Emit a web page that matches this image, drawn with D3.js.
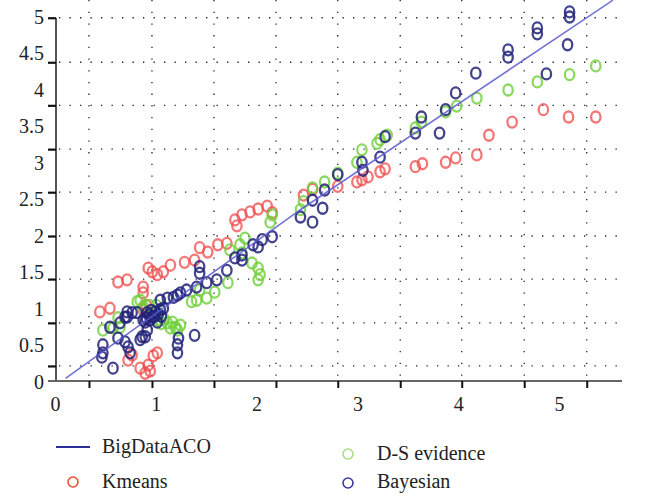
<!DOCTYPE html>
<html lang="en">
<head>
<meta charset="UTF-8">
<title>BigDataACO scatter</title>
<script src="https://cdn.jsdelivr.net/npm/d3@7/dist/d3.min.js"></script>
<style>
    body { margin: 0; background: #fff; }
    svg text { font-family: "Liberation Serif", "Times New Roman", serif; fill: #222; }
</style>
</head>
<body>
<script>
    // tick labels shown on the axes
    const xLabels = [0, 1, 2, 3, 4, 5];
    const yLabels = [0, 0.5, 1, 1.5, 2, 2.5, 3, 3.5, 4, 4.5, 5];
    // tick marks / dotted grid (not aligned with labels in the original)
    const xGrid = [0.332, 0.957, 1.572, 2.187, 2.80, 3.42, 4.03, 4.65, 5.27];
    const yGrid = [0.22, 0.81, 1.41, 2.0, 2.60, 3.19, 3.79, 4.38, 4.99];

    // BigDataACO fitted line
    const bigDataACO = [[0.1, 0.05], [2.43, 2.36], [5.53, 5.23]];

    const kmeans = [
        [5.36,3.63],[5.09,3.63],[4.84,3.73],[4.53,3.56],[4.30,3.38],[4.18,3.11],[3.97,3.07],
        [3.87,3.01],[3.64,2.99],[3.57,2.95],[3.27,2.92],[3.22,2.88],[3.10,2.81],[3.04,2.77],
        [2.99,2.74],[2.80,2.68],[2.55,2.64],[2.46,2.56],[2.15,2.32],[2.10,2.41],[2.01,2.37],
        [1.93,2.33],[1.85,2.29],[1.78,2.22],[1.80,2.14],[1.70,1.90],[1.61,1.88],[1.51,1.78],
        [1.43,1.84],[1.38,1.67],[1.28,1.64],[1.14,1.60],[1.07,1.51],[1.01,1.47],[0.96,1.51],
        [0.92,1.56],[0.87,1.30],[0.87,1.22],[0.71,1.40],[0.62,1.37],[0.54,1.01],[0.44,0.96],
        [0.87,0.99],[0.72,0.30],[0.76,0.37],[0.84,0.19],[0.89,0.12],[0.94,0.15],[0.92,0.23],
        [0.97,0.36],[1.01,0.40],[0.90,1.05]
    ];

    const dsEvidence = [
        [5.36,4.33],[5.10,4.21],[4.78,4.11],[4.49,4.00],[4.18,3.89],[3.98,3.78],[3.87,3.70],
        [3.63,3.56],[3.57,3.48],[3.29,3.38],[3.22,3.32],[3.19,3.27],[3.04,3.18],[2.99,3.01],
        [2.80,2.86],[2.67,2.74],[2.55,2.66],[2.46,2.47],[2.43,2.36],[2.15,2.29],[2.13,2.19],
        [1.88,1.97],[1.83,1.88],[1.85,1.77],[1.73,1.81],[1.95,1.63],[2.01,1.56],[2.03,1.47],
        [2.01,1.40],[1.71,1.36],[1.58,1.23],[1.50,1.15],[1.43,1.26],[1.40,1.12],[1.35,1.10],
        [1.24,0.78],[1.19,0.75],[1.14,0.74],[1.16,0.82],[1.11,0.81],[1.21,0.71],[0.97,0.95],
        [1.01,0.85],[0.84,1.12],[0.81,1.10],[0.87,1.03],[0.62,0.88],[0.64,0.75],[0.47,0.71],
        [0.57,0.74],[1.05,0.80],[1.08,0.86],[0.93,1.05],[1.00,1.05]
    ];

    const bayesian = [
        [5.10,5.07],[5.10,5.00],[4.78,4.85],[4.78,4.77],[5.08,4.62],[4.49,4.55],[4.49,4.45],
        [4.87,4.22],[4.17,4.23],[3.97,3.96],[3.87,3.73],[3.81,3.41],[3.63,3.63],[3.57,3.41],
        [3.27,3.36],[3.22,3.08],[3.04,3.01],[3.05,2.90],[2.80,2.84],[2.67,2.63],[2.55,2.49],
        [2.65,2.38],[2.55,2.19],[2.43,2.26],[2.15,1.99],[2.05,1.95],[2.01,1.85],[1.96,1.88],
        [1.85,1.74],[1.78,1.70],[1.85,1.67],[1.70,1.53],[1.60,1.40],[1.50,1.36],[1.43,1.58],
        [1.43,1.49],[1.40,1.30],[1.30,1.26],[1.24,1.22],[1.21,1.19],[1.11,1.15],[1.04,1.12],
        [1.17,1.16],[0.96,0.89],[1.04,0.99],[0.99,0.96],[0.94,0.85],[0.91,0.95],[0.89,0.82],
        [1.01,0.82],[1.07,1.01],[0.87,0.85],[0.81,0.95],[0.76,0.95],[0.71,0.89],[0.69,0.89],
        [0.71,0.96],[0.64,0.81],[0.54,0.75],[0.91,0.71],[0.89,0.62],[0.86,0.62],[0.84,0.58],
        [0.62,0.60],[0.69,0.55],[0.72,0.48],[0.74,0.40],[0.47,0.51],[0.47,0.40],[0.46,0.34],
        [0.57,0.19],[1.22,0.60],[1.21,0.51],[1.21,0.40],[1.38,0.64],[0.93,0.92],[0.98,0.90],
        [1.02,0.93],[0.95,0.98],[0.90,0.88],[1.05,0.90]
    ];

    const width = 648, height = 496;

    const svg = d3.select("body").append("svg")
        .attr("width", width)
        .attr("height", height);

    const x = d3.scaleLinear().domain([0, 5]).range([55.5, 559.5]);
    const y = d3.scaleLinear().domain([0, 5]).range([382, 17]);

    const xMin = 56, xMax = 622, yBottom = 381, yTop = 18;

    // dotted grid
    svg.append("g").selectAll("line")
        .data(yGrid)
        .enter().append("line")
        .attr("x1", xMin + 3).attr("x2", xMax)
        .attr("y1", d => y(d)).attr("y2", d => y(d))
        .attr("stroke", "#222").attr("stroke-width", 1.3)
        .attr("stroke-dasharray", "1.3,9.2");

    svg.append("g").selectAll("line")
        .data(xGrid)
        .enter().append("line")
        .attr("x1", d => x(d)).attr("x2", d => x(d))
        .attr("y1", 0).attr("y2", yBottom - 4)
        .attr("stroke", "#222").attr("stroke-width", 1.3)
        .attr("stroke-dasharray", "1.3,10.4");

    // axis lines and tick marks
    const xAxis = svg.append("g")
        .attr("transform", `translate(0,${yBottom})`)
        .call(d3.axisBottom(x).tickValues(xGrid).tickFormat("").tickSize(7).tickSizeOuter(0));
    xAxis.select(".domain").attr("d", `M${xMin - 8},0H${xMax}`).attr("stroke", "#333").attr("stroke-width", 1.6);
    xAxis.selectAll(".tick line").attr("stroke", "#111").attr("stroke-width", 2);

    const yAxis = svg.append("g")
        .attr("transform", `translate(${xMin},0)`)
        .call(d3.axisLeft(y).tickValues(yGrid).tickFormat("").tickSize(8).tickSizeOuter(0));
    yAxis.select(".domain").attr("d", `M0,${yTop}V${yBottom}`).attr("stroke", "#555").attr("stroke-width", 2);
    yAxis.selectAll(".tick line").attr("stroke", "#111").attr("stroke-width", 2.2);

    // tick labels
    svg.append("g").selectAll("text")
        .data(xLabels)
        .enter().append("text")
        .attr("x", d => x(d))
        .attr("y", 411)
        .attr("text-anchor", "middle")
        .style("font-size", "20px")
        .text(d => d);

    svg.append("g").selectAll("text")
        .data(yLabels)
        .enter().append("text")
        .attr("x", 44)
        .attr("y", d => y(d) + 6.5)
        .attr("text-anchor", "end")
        .style("font-size", "20px")
        .text(d => d);

    // scatter series
    const series = [
        { name: "Kmeans", data: kmeans, color: "#f04a4a", opacity: 0.75 },
        { name: "D-S evidence", data: dsEvidence, color: "#6fcf3a", opacity: 0.8 },
        { name: "Bayesian", data: bayesian, color: "#22227a", opacity: 0.85 }
    ];

    series.forEach(s => {
        svg.append("g").selectAll("ellipse")
            .data(s.data)
            .enter().append("ellipse")
            .attr("cx", d => x(d[0]))
            .attr("cy", d => y(d[1]))
            .attr("rx", 4.7).attr("ry", 5.5)
            .attr("fill", "none")
            .attr("stroke", s.color)
            .attr("stroke-width", 2.3)
            .attr("stroke-opacity", s.opacity);
    });

    // BigDataACO line
    const line = d3.line().x(d => x(d[0])).y(d => y(d[1]));
    svg.append("path")
        .datum(bigDataACO)
        .attr("d", line)
        .attr("fill", "none")
        .attr("stroke", "#5a5ad0")
        .attr("stroke-width", 1.6)
        .attr("stroke-opacity", 0.85);

    // legend
    const legend = svg.append("g");
    legend.append("line")
        .attr("x1", 56).attr("x2", 90).attr("y1", 447).attr("y2", 447)
        .attr("stroke", "#2e2e9a").attr("stroke-width", 2.2);
    legend.append("text").attr("x", 102).attr("y", 453).style("font-size", "20px").text("BigDataACO");

    const legendItems = [
        { label: "Kmeans", color: "#e8502a", cx: 73, cy: 482, tx: 102, ty: 488 },
        { label: "D-S evidence", color: "#a6e07e", cx: 348, cy: 454, tx: 377, ty: 460 },
        { label: "Bayesian", color: "#3a3aa0", cx: 348, cy: 483, tx: 377, ty: 488 }
    ];
    legendItems.forEach(d => {
        legend.append("circle")
            .attr("cx", d.cx).attr("cy", d.cy).attr("r", 5)
            .attr("fill", "none").attr("stroke", d.color).attr("stroke-width", 1.6);
        legend.append("text").attr("x", d.tx).attr("y", d.ty).style("font-size", "20px").text(d.label);
    });
</script>
</body>
</html>
